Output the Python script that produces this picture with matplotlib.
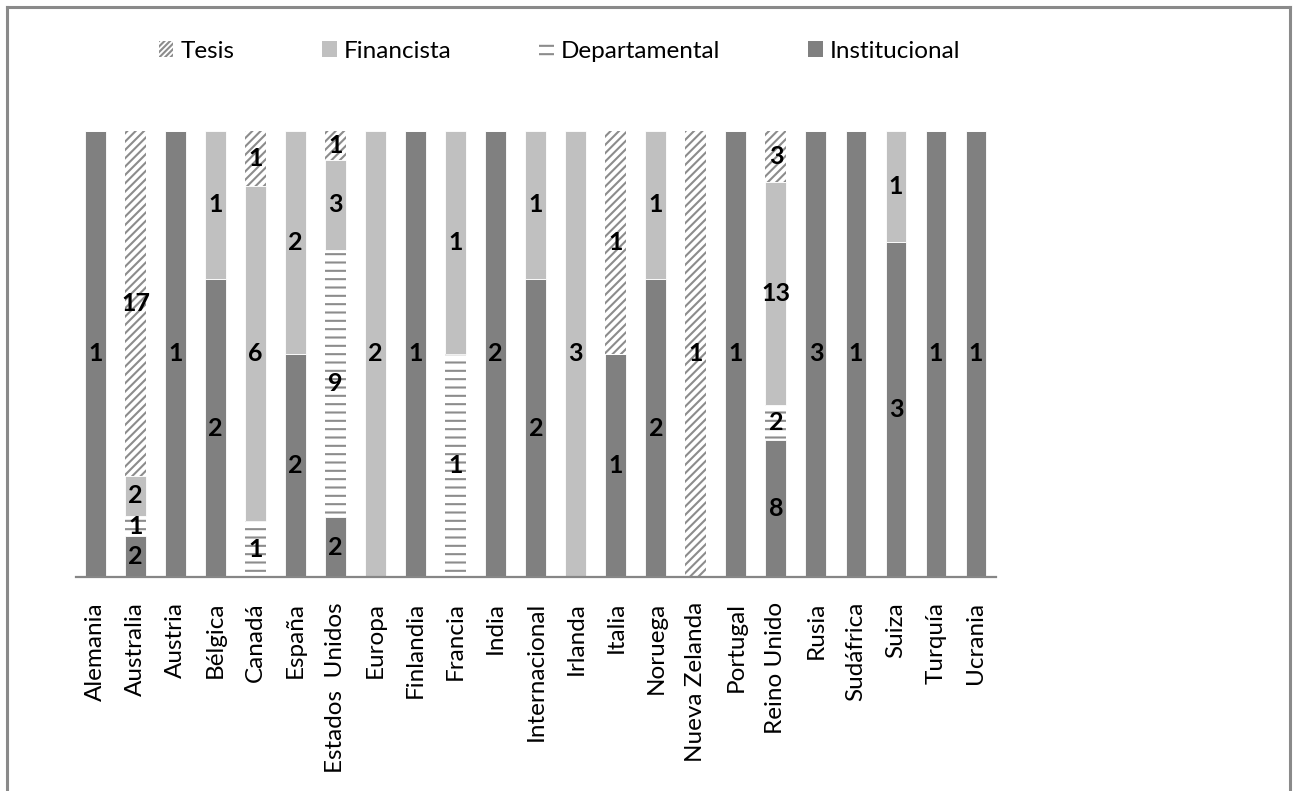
import matplotlib
matplotlib.use("Agg")
import matplotlib.pyplot as plt
import numpy as np
from matplotlib.patches import Patch
from matplotlib.lines import Line2D

countries = ["Alemania", "Australia", "Austria", "Bélgica", "Canadá", "España",
             "Estados  Unidos", "Europa", "Finlandia", "Francia", "India",
             "Internacional", "Irlanda", "Italia", "Noruega", "Nueva Zelanda",
             "Portugal", "Reino Unido", "Rusia", "Sudáfrica", "Suiza", "Turquía",
             "Ucrania"]
institucional = [1, 2, 1, 2, 0, 2, 2, 0, 1, 0, 2, 2, 0, 1, 2, 0, 1, 8, 3, 1, 3, 1, 1]
departamental = [0, 1, 0, 0, 1, 0, 9, 0, 0, 1, 0, 0, 0, 0, 0, 0, 0, 2, 0, 0, 0, 0, 0]
financista = [0, 2, 0, 1, 6, 2, 3, 2, 0, 1, 0, 1, 3, 0, 1, 0, 0, 13, 0, 0, 1, 0, 0]
tesis = [0, 17, 0, 0, 1, 0, 1, 0, 0, 0, 0, 0, 0, 1, 0, 1, 0, 3, 0, 0, 0, 0, 0]

plt.rcParams['font.family'] = ['Lato', 'DejaVu Sans']
plt.rcParams['hatch.linewidth'] = 1.5

W, H = 1299, 791
fig = plt.figure(figsize=(W / 100, H / 100), dpi=100)
ax = fig.add_axes([75.5 / W, 1 - 577 / H, (996 - 75.5) / W, (577 - 130.5) / H])

series = [
    ("Institucional", institucional, dict(color="#808080", edgecolor="white", linewidth=0.6)),
    ("Departamental", departamental, dict(color="white", edgecolor="#8c8c8c", linewidth=0, hatch="--")),
    ("Financista", financista, dict(color="#c0c0c0", edgecolor="white", linewidth=0.6)),
    ("Tesis", tesis, dict(color="white", edgecolor="#8c8c8c", linewidth=0, hatch="////")),
]

x = np.arange(len(countries))
totals = np.sum([np.array(s[1], dtype=float) for s in series], axis=0)
bottom = np.zeros(len(countries))
for name, vals, style in series:
    vals = np.array(vals, dtype=float)
    frac = vals / totals
    bars = ax.bar(x, frac, width=0.52, bottom=bottom, label=name, **style)
    labels = [str(int(v)) if v > 0 else "" for v in vals]
    ax.bar_label(bars, labels=labels, label_type="center", fontsize=18,
                 fontweight="bold", color="black")
    bottom += frac

ax.set_xlim(-0.5, len(countries) - 0.5)
ax.set_ylim(0, 1)
ax.set_xticks(x)
ax.set_xticklabels(countries, rotation=90, fontsize=17.5, va="top")
ax.tick_params(axis="x", length=0, pad=18)
ax.set_yticks([])
for s in ["left", "right", "top"]:
    ax.spines[s].set_visible(False)
ax.spines["bottom"].set_color("#868686")
ax.spines["bottom"].set_linewidth(1.6)

order = ["Tesis", "Financista", "Departamental", "Institucional"]
leg_handles = [
    Patch(facecolor="white", edgecolor="#8c8c8c", linewidth=0, hatch="//////"),
    Patch(facecolor="#c0c0c0", edgecolor="none"),
    Patch(facecolor="white", edgecolor="#8c8c8c", linewidth=0, hatch="--"),
    Patch(facecolor="#808080", edgecolor="none"),
]
fig.legend(leg_handles, order, loc="center", bbox_to_anchor=(559.5 / W, 1 - 51 / H),
           ncol=4, frameon=False, fontsize=17.5, handlelength=0.6, handleheight=0.6,
           handletextpad=0.3, columnspacing=3.6)

# outer frame (top, left, right)
c = "#8a8a8a"
fig.add_artist(Line2D([6.5 / W, 6.5 / W], [0, 1 - 6.5 / H], color=c, lw=2.2, transform=fig.transFigure))
fig.add_artist(Line2D([6.5 / W, 1289.5 / W], [1 - 6.5 / H, 1 - 6.5 / H], color=c, lw=2.2, transform=fig.transFigure))
fig.add_artist(Line2D([1289.5 / W, 1289.5 / W], [0, 1 - 6.5 / H], color=c, lw=2.2, transform=fig.transFigure))

fig.savefig("out.png", dpi=100)
